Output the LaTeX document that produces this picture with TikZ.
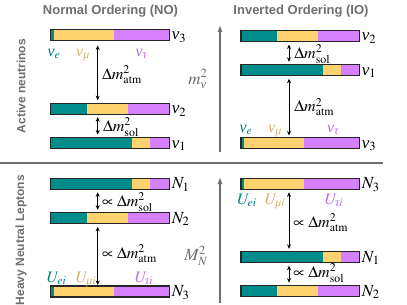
\documentclass[tikz,border=0pt]{standalone}
\usepackage{amsmath}
\usepackage{mathptmx}
\usepackage{fontspec}
\setmainfont{Liberation Serif}
\newfontfamily\hv{Liberation Sans}
\newcommand\gnu{\text{\itshape ν}}
\newcommand\gmu{\text{\itshape μ}}
\newcommand\gtau{\text{\itshape τ}}
\usetikzlibrary{arrows.meta,calc}
\definecolor{cE}{RGB}{0,140,138}
\definecolor{cM}{RGB}{255,210,112}
\definecolor{cT}{RGB}{214,128,255}
\definecolor{tE}{RGB}{0,128,128}
\definecolor{tM}{RGB}{214,178,105}
\definecolor{tT}{RGB}{180,110,230}
\definecolor{gr}{RGB}{110,110,110}
\tikzset{
  barbox/.style={rectangle,inner sep=0pt,outer sep=0pt,minimum width=118.7pt,minimum height=11pt},
  barline/.style={draw=black!85,line width=1.2pt},
  lab/.style={inner sep=0pt,font=\fontsize{17}{20}\selectfont},
  flab/.style={inner sep=0pt,anchor=base,font=\fontsize{16}{19}\selectfont},
  dlab/.style={inner sep=0pt,font=\fontsize{16}{19}\selectfont},
  dmarr/.style={line width=0.9pt,{Stealth[length=4.5pt,width=4pt]}-{Stealth[length=4.5pt,width=4pt]}},
  axarr/.style={draw=gr,line width=1.3pt,-{Latex[length=7pt,width=5pt]}},
  axlab/.style={text=gr,inner sep=0pt,font=\fontsize{17}{20}\selectfont},
  title/.style={text=gr,inner sep=0pt,font=\hv\bfseries\fontsize{13}{15}\selectfont},
  side/.style={text=gr,inner sep=0pt,rotate=90,font=\hv\bfseries\fontsize{12}{14}\selectfont},
}
\newcommand\mkbar[5]{%
  \node[barbox] (#1) at (#2,#3) {};
  \fill[cE] (#1.south west) rectangle ($(#1.north west)!#4!(#1.north east)$);
  \fill[cM] ($(#1.south west)!#4!(#1.south east)$) rectangle ($(#1.north west)!#5!(#1.north east)$);
  \fill[cT] ($(#1.south west)!#5!(#1.south east)$) rectangle (#1.north east);
  \draw[barline] (#1.south west) rectangle (#1.north east);
}
\begin{document}
\begin{tikzpicture}[x=1pt,y=-1pt]
\useasboundingbox (0,0) rectangle (407,305);
% titles
\node[title] (tNO) at (110.5,11) {Normal Ordering (NO)};
\node[title] (tIO) at (301,11) {Inverted Ordering (IO)};
\node[side] (sA) at (21,86) {Active neutrinos};
\node[side] (sH) at (21,240) {Heavy Neutral Leptons};
% divider
\coordinate (dl) at (0,163);
\coordinate (dr) at (383,163);
\draw[gr,line width=1.5pt] (dl) -- (dr);
% axes
\coordinate (ax1b) at (220,152);
\coordinate (ax1t) at (220,25);
\coordinate (ax2b) at (220,303);
\coordinate (ax2t) at (220,177);
\draw[axarr] (ax1b) -- (ax1t);
\draw[axarr] (ax2b) -- (ax2t);
\node[axlab] (lm) at (198,79) {$m_{\gnu}^2$};
\node[axlab] (lM) at (196,256) {$M_N^2$};
% bars NO top
\mkbar{a3}{110.2}{35}{0.028}{0.53}
\mkbar{a2}{110.2}{108.7}{0.307}{0.648}
\mkbar{a1}{110.2}{143}{0.687}{0.838}
% bars IO top
\mkbar{b2}{300.4}{36}{0.307}{0.648}
\mkbar{b1}{300.4}{70.3}{0.687}{0.838}
\mkbar{b3}{300.4}{143}{0.028}{0.53}
% bars NO bottom
\mkbar{n1}{110.2}{183.8}{0.687}{0.838}
\mkbar{n2}{110.2}{218.3}{0.307}{0.648}
\mkbar{n3}{110.2}{291.5}{0.028}{0.53}
% bars IO bottom
\mkbar{m3}{300.4}{183.8}{0.028}{0.53}
\mkbar{m1}{300.4}{257.3}{0.687}{0.838}
\mkbar{m2}{300.4}{291.2}{0.307}{0.648}
% mass labels
\foreach \b/\t in {a3/\gnu_3,a2/\gnu_2,a1/\gnu_1,b2/\gnu_2,b1/\gnu_1,b3/\gnu_3,n1/N_1,n2/N_2,n3/N_3,m3/N_3,m1/N_1,m2/N_2}{
  \node[lab,anchor=base west] (l\b) at ([xshift=2pt,yshift=0.5pt]\b.south east) {$\t$};
}
% flavour labels
\node[flab,text=tE] (fa1) at (54,56.5) {$\gnu_e$};
\node[flab,text=tM] (fa2) at (83,56.5) {$\gnu_{\gmu}$};
\node[flab,text=tT] (fa3) at (141.5,56.5) {$\gnu_{\gtau}$};
\node[flab,text=tE] (fb1) at (246,132) {$\gnu_e$};
\node[flab,text=tM] (fb2) at (275,132) {$\gnu_{\gmu}$};
\node[flab,text=tT] (fb3) at (333,132) {$\gnu_{\gtau}$};
\node[flab,text=tE] (fn1) at (56.7,282.5) {$U_{ei}$};
\node[flab,text=tM] (fn2) at (86,282.5) {$U_{\gmu i}$};
\node[flab,text=tT] (fn3) at (144,282.5) {$U_{\gtau i}$};
\node[flab,text=tE] (fm1) at (247,204) {$U_{ei}$};
\node[flab,text=tM] (fm2) at (275,204) {$U_{\gmu i}$};
\node[flab,text=tT] (fm3) at (334,204) {$U_{\gtau i}$};
% mass splitting arrows
\coordinate (xL) at (97.7,0);
\coordinate (xR) at (289,0);
\draw[dmarr] ([yshift=-5pt]a3.south -| xL) -- ([yshift=3pt]a2.north -| xL)
  node[dlab,midway,anchor=west,xshift=4pt,yshift=-2pt] (dA1) {$\Delta m^2_{\mathrm{atm}}$};
\draw[dmarr] ([yshift=-3pt]a2.south -| xL) -- ([yshift=3pt]a1.north -| xL)
  node[dlab,midway,anchor=west,xshift=5pt,yshift=-1pt] (dA2) {$\Delta m^2_{\mathrm{sol}}$};
\draw[dmarr] ([yshift=-3pt]b2.south -| xR) -- ([yshift=3pt]b1.north -| xR)
  node[dlab,midway,anchor=west,xshift=5pt,yshift=-1pt] (dB1) {$\Delta m^2_{\mathrm{sol}}$};
\draw[dmarr] ([yshift=-3pt]b1.south -| xR) -- ([yshift=2pt]b3.north -| xR)
  node[dlab,midway,anchor=west,xshift=5pt] (dB2) {$\Delta m^2_{\mathrm{atm}}$};
\draw[dmarr] ([yshift=-3pt]n1.south -| xL) -- ([yshift=3pt]n2.north -| xL)
  node[dlab,midway,anchor=west,xshift=4pt,yshift=-1pt] (dN1) {$\propto\Delta m^2_{\mathrm{sol}}$};
\draw[dmarr] ([yshift=-3pt]n2.south -| xL) -- ([yshift=1pt]n3.north -| xL)
  node[dlab,midway,anchor=west,xshift=4pt,yshift=2pt] (dN2) {$\propto\Delta m^2_{\mathrm{atm}}$};
\draw[dmarr] ([yshift=-3pt]m3.south -| xR) -- ([yshift=3pt]m1.north -| xR)
  node[dlab,midway,anchor=west,xshift=4pt,yshift=-2pt] (dM1) {$\propto\Delta m^2_{\mathrm{atm}}$};
\draw[dmarr] ([yshift=-3pt]m1.south -| xR) -- ([yshift=3pt]m2.north -| xR)
  node[dlab,midway,anchor=west,xshift=4pt,yshift=1pt] (dM2) {$\propto\Delta m^2_{\mathrm{sol}}$};
\end{tikzpicture}
\end{document}
